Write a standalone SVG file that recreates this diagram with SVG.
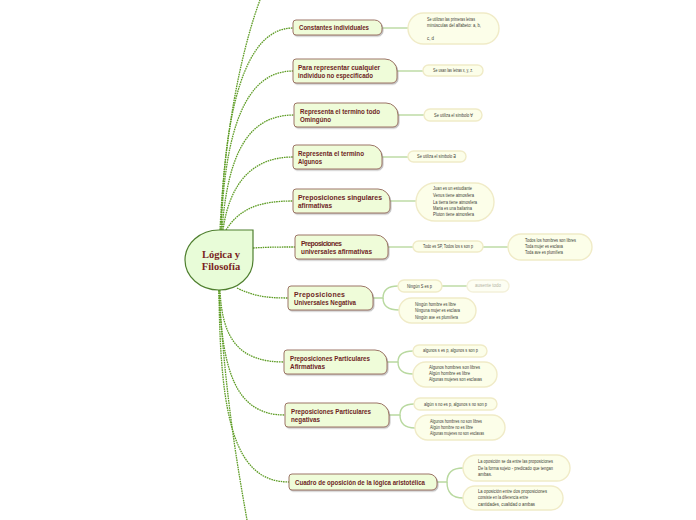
<svg xmlns="http://www.w3.org/2000/svg" width="696" height="520" viewBox="0 0 696 520">
<style>
.bg{fill:#ffffff}
.dash{fill:none;stroke:#5e9c25;stroke-width:1.3;stroke-dasharray:1.6 0.8}
.sol{fill:none;stroke:#b9d9a0;stroke-width:1.4}
.box{fill:#effcd9;stroke:#9c7466;stroke-width:1;filter:url(#sh)}
.leaf{fill:#fcfee9;stroke:#f0ebc7;stroke-width:1.4}
.leaff{fill:#fdfef3;stroke:#f4f1da;stroke-width:1.4}
.bt{font-family:"Liberation Sans",Arial,sans-serif;font-weight:bold;font-size:7px;fill:#6e1f1f}
.lt{font-family:"Liberation Sans",Arial,sans-serif;font-size:4.6px;fill:#3e3e36}
.ltf{font-family:"Liberation Sans",Arial,sans-serif;font-size:4.6px;fill:#b5b5a5}
.ct{font-family:"Liberation Serif","Times New Roman",serif;font-weight:bold;font-size:10.5px;fill:#7a1f1f}
</style>
<defs>
<filter id="sh" x="-10%" y="-20%" width="130%" height="160%">
<feDropShadow dx="1" dy="1.2" stdDeviation="0.6" flood-color="#777" flood-opacity="0.45"/>
</filter>
</defs>
<rect class="bg" x="0" y="0" width="696" height="520"/>

<g id="connectors">
<path class="dash" d="M220,230 C225,120 245,40 260,0"/>
<path class="dash" d="M221,230 C224,110 245,28 293,28"/>
<path class="dash" d="M221,230 C225,130 245,71 293,71"/>
<path class="dash" d="M222,230 C228,150 250,115 294,115"/>
<path class="dash" d="M223,230 C230,180 255,157 293,157"/>
<path class="dash" d="M226,230 C240,208 260,201 293,201"/>
<path class="dash" d="M253,248 C270,247 280,247 295,247"/>
<path class="dash" d="M237,288 C255,297 270,298 288,298"/>
<path class="dash" d="M220,290 C222,340 240,362 284,362"/>
<path class="dash" d="M219,290 C222,370 235,415 285,415"/>
<path class="dash" d="M219,290 C220,420 235,482 289,482"/>
<path class="dash" d="M219,290 C225,400 240,480 247,520"/>

<path class="sol" d="M382,28 H408"/>
<path class="sol" d="M397,71 H423"/>
<path class="sol" d="M398,115 H424"/>
<path class="sol" d="M382,157 H408"/>
<path class="sol" d="M390,201 H416"/>
<path class="sol" d="M388,247 H413"/>
<path class="sol" d="M483,247 H508"/>
<path class="sol" d="M373,298 H383 C383,290 388,286 398,286"/>
<path class="sol" d="M383,298 C383,306 388,310 399,310"/>
<path class="sol" d="M442,286 H467"/>
<path class="sol" d="M387,362 H398 C398,355 403,351 413,351"/>
<path class="sol" d="M398,362 C398,370 403,374 413,374"/>
<path class="sol" d="M389,415 H400 C400,408 405,404 414,404"/>
<path class="sol" d="M400,415 C400,423 405,428 415,428"/>
<path class="sol" d="M437,482 H447 C447,473 452,468 463,468"/>
<path class="sol" d="M447,482 C447,492 452,498 463,498"/>
</g>

<g id="center">
<path d="M219,230 H253 V260 A34,30 0 0 1 219,290 A34,30 0 0 1 185,260 A34,30 0 0 1 219,230 Z" fill="#e8fcd8" stroke="#4f7f2f" stroke-width="1.2"/>
<text class="ct" x="221" y="258" text-anchor="middle">Lógica y</text>
<text class="ct" x="221" y="270" text-anchor="middle">Filosofía</text>
</g>

<g id="n1">
<path class="box" d="M296,20 H374.5 A7.5,7.5 0 0 1 382,27.5 V30 A5,5 0 0 1 377,35 H296 A3,3 0 0 1 293,32 V23 A3,3 0 0 1 296,20 Z"/>
<text class="bt" x="299" y="30.3" textLength="70" lengthAdjust="spacingAndGlyphs">Constantes individuales</text>
</g>
<g id="n1a">
<rect class="leaf" x="408" y="13" width="91" height="31" rx="15.5"/>
<text class="lt" x="427" y="20.6" textLength="48" lengthAdjust="spacingAndGlyphs">Se utilizan las primeras letras</text>
<text class="lt" x="427" y="27.3" textLength="54" lengthAdjust="spacingAndGlyphs">minúsculas del alfabeto: a, b,</text>
<text class="lt" x="427" y="40" textLength="7" lengthAdjust="spacingAndGlyphs">c, d</text>
</g>

<g id="n2">
<path class="box" d="M296,59 H385 A12,12 0 0 1 397,71 V78 A5,5 0 0 1 392,83 H296 A3,3 0 0 1 293,80 V62 A3,3 0 0 1 296,59 Z"/>
<text class="bt" x="298" y="69.7" textLength="82" lengthAdjust="spacingAndGlyphs">Para representar cualquier</text>
<text class="bt" x="298" y="78" textLength="75" lengthAdjust="spacingAndGlyphs">individuo no especificado</text>
</g>
<g id="n2a">
<rect class="leaf" x="423" y="65" width="60" height="11" rx="5.5"/>
<text class="lt" x="433" y="72.3" textLength="40" lengthAdjust="spacingAndGlyphs">Se usan las letras x, y, z.</text>
</g>

<g id="n3">
<path class="box" d="M297,103 H386 A12,12 0 0 1 398,115 V122 A5,5 0 0 1 393,127 H297 A3,3 0 0 1 294,124 V106 A3,3 0 0 1 297,103 Z"/>
<text class="bt" x="300" y="113.7" textLength="80" lengthAdjust="spacingAndGlyphs">Representa el termino todo</text>
<text class="bt" x="300" y="122" textLength="31" lengthAdjust="spacingAndGlyphs">Omingúno</text>
</g>
<g id="n3a">
<rect class="leaf" x="424" y="109" width="58" height="12" rx="6"/>
<text class="lt" x="434" y="116.6" textLength="39" lengthAdjust="spacingAndGlyphs">Se utiliza el símbolo ∀</text>
</g>

<g id="n4">
<path class="box" d="M296,145 H370 A12,12 0 0 1 382,157 V164 A5,5 0 0 1 377,169 H296 A3,3 0 0 1 293,166 V148 A3,3 0 0 1 296,145 Z"/>
<text class="bt" x="298" y="155.7" textLength="66" lengthAdjust="spacingAndGlyphs">Representa el termino</text>
<text class="bt" x="298" y="164" textLength="24" lengthAdjust="spacingAndGlyphs">Algunos</text>
</g>
<g id="n4a">
<rect class="leaf" x="408" y="151" width="58" height="11" rx="5.5"/>
<text class="lt" x="417" y="158.3" textLength="39" lengthAdjust="spacingAndGlyphs">Se utiliza el símbolo ∃</text>
</g>

<g id="n5">
<path class="box" d="M296,189 H378 A12,12 0 0 1 390,201 V208 A5,5 0 0 1 385,213 H296 A3,3 0 0 1 293,210 V192 A3,3 0 0 1 296,189 Z"/>
<text class="bt" x="298" y="199.8" textLength="84" lengthAdjust="spacingAndGlyphs">Preposiciones singulares</text>
<text class="bt" x="298" y="208.2" textLength="34" lengthAdjust="spacingAndGlyphs">afirmativas</text>
</g>
<g id="n5a">
<rect class="leaf" x="416" y="183" width="78" height="38" rx="19"/>
<text class="lt" x="433" y="190.3" textLength="39" lengthAdjust="spacingAndGlyphs">Juan es un estudiante</text>
<text class="lt" x="433" y="196.6" textLength="41" lengthAdjust="spacingAndGlyphs">Venus tiene atmosfera</text>
<text class="lt" x="433" y="203.6" textLength="44" lengthAdjust="spacingAndGlyphs">La tierra tiene atmosfera</text>
<text class="lt" x="433" y="209.6" textLength="39" lengthAdjust="spacingAndGlyphs">Maria es una bailarina</text>
<text class="lt" x="433" y="215.9" textLength="41" lengthAdjust="spacingAndGlyphs">Pluton tiene atmosfera</text>
</g>

<g id="n6">
<path class="box" d="M298,235 H376 A12,12 0 0 1 388,247 V254 A5,5 0 0 1 383,259 H298 A3,3 0 0 1 295,256 V238 A3,3 0 0 1 298,235 Z"/>
<text class="bt" x="301" y="245.7" textLength="41" lengthAdjust="spacing">Preposiciones</text>
<text class="bt" x="301" y="254" textLength="71" lengthAdjust="spacingAndGlyphs">universales afirmativas</text>
</g>
<g id="n6a">
<rect class="leaf" x="413" y="241" width="70" height="11" rx="5.5"/>
<text class="lt" x="423" y="248.3" textLength="50" lengthAdjust="spacingAndGlyphs">Todo es SP, Todos los s son p</text>
</g>
<g id="n6b">
<rect class="leaf" x="508" y="234" width="84" height="26" rx="13"/>
<text class="lt" x="525" y="242.3" textLength="51" lengthAdjust="spacingAndGlyphs">Todos los hombres son libres</text>
<text class="lt" x="525" y="248.3" textLength="38" lengthAdjust="spacingAndGlyphs">Toda mujer es esclava</text>
<text class="lt" x="525" y="254.3" textLength="38" lengthAdjust="spacingAndGlyphs">Toda ave es plumífera</text>
</g>

<g id="n7">
<path class="box" d="M291,286 H361 A12,12 0 0 1 373,298 V305 A5,5 0 0 1 368,310 H291 A3,3 0 0 1 288,307 V289 A3,3 0 0 1 291,286 Z"/>
<text class="bt" x="294" y="296.7" textLength="51" lengthAdjust="spacing">Preposiciones</text>
<text class="bt" x="294" y="305" textLength="62" lengthAdjust="spacingAndGlyphs">Universales Negativa</text>
</g>
<g id="n7a">
<rect class="leaf" x="398" y="280" width="44" height="12" rx="6"/>
<text class="lt" x="407" y="287.6" textLength="25" lengthAdjust="spacingAndGlyphs">Ningún S es p</text>
</g>
<g id="n7c">
<rect class="leaff" x="467" y="280" width="42" height="12" rx="6"/>
<text class="ltf" x="488" y="287.4" text-anchor="middle" textLength="26" lengthAdjust="spacingAndGlyphs">ausente todo</text>
</g>
<g id="n7b">
<rect class="leaf" x="399" y="298" width="77" height="25" rx="12.5"/>
<text class="lt" x="415" y="305.6" textLength="41" lengthAdjust="spacingAndGlyphs">Ningún hombre es libre</text>
<text class="lt" x="415" y="312.3" textLength="45" lengthAdjust="spacingAndGlyphs">Ninguna mujer es esclava</text>
<text class="lt" x="415" y="318.9" textLength="43" lengthAdjust="spacingAndGlyphs">Ningún ave es plumífera</text>
</g>

<g id="n8">
<path class="box" d="M287,350 H375 A12,12 0 0 1 387,362 V369 A5,5 0 0 1 382,374 H287 A3,3 0 0 1 284,371 V353 A3,3 0 0 1 287,350 Z"/>
<text class="bt" x="290" y="360.7" textLength="80" lengthAdjust="spacingAndGlyphs">Preposiciones Particulares</text>
<text class="bt" x="290" y="369" textLength="35" lengthAdjust="spacingAndGlyphs">Afirmativas</text>
</g>
<g id="n8a">
<rect class="leaf" x="413" y="345" width="74" height="12" rx="6"/>
<text class="lt" x="423" y="352.3" textLength="55" lengthAdjust="spacingAndGlyphs">algunos s es p, algunos s son p</text>
</g>
<g id="n8b">
<rect class="leaf" x="413" y="362" width="84" height="25" rx="12.5"/>
<text class="lt" x="429" y="368.9" textLength="51" lengthAdjust="spacingAndGlyphs">Algunos hombres son libres</text>
<text class="lt" x="429" y="374.6" textLength="41" lengthAdjust="spacingAndGlyphs">Algún hombre es libre</text>
<text class="lt" x="429" y="380.6" textLength="53" lengthAdjust="spacingAndGlyphs">Algunas mujeres son esclavas</text>
</g>

<g id="n9">
<path class="box" d="M288,403 H377 A12,12 0 0 1 389,415 V422 A5,5 0 0 1 384,427 H288 A3,3 0 0 1 285,424 V406 A3,3 0 0 1 288,403 Z"/>
<text class="bt" x="291" y="413.7" textLength="80" lengthAdjust="spacingAndGlyphs">Preposiciones Particulares</text>
<text class="bt" x="291" y="422" textLength="29" lengthAdjust="spacingAndGlyphs">negativas</text>
</g>
<g id="n9a">
<rect class="leaf" x="414" y="398" width="83" height="12" rx="6"/>
<text class="lt" x="424" y="405.9" textLength="63" lengthAdjust="spacingAndGlyphs">algún s no es p, algunos s no son p</text>
</g>
<g id="n9b">
<rect class="leaf" x="415" y="415" width="90" height="25" rx="12.5"/>
<text class="lt" x="430" y="422.6" textLength="52" lengthAdjust="spacingAndGlyphs">Algunos hombres no son libres</text>
<text class="lt" x="430" y="428.6" textLength="43" lengthAdjust="spacingAndGlyphs">Algún hombre no es libre</text>
<text class="lt" x="430" y="434.6" textLength="54" lengthAdjust="spacingAndGlyphs">Algunas mujeres no son esclavas</text>
</g>

<g id="n10">
<path class="box" d="M292,474 H429 A8,8 0 0 1 437,482 V485 A5,5 0 0 1 432,490 H292 A3,3 0 0 1 289,487 V477 A3,3 0 0 1 292,474 Z"/>
<text class="bt" x="295" y="484.5" textLength="130" lengthAdjust="spacingAndGlyphs">Cuadro de oposición de la lógica aristotélica</text>
</g>
<g id="n10a">
<rect class="leaf" x="463" y="455" width="107" height="26" rx="13"/>
<text class="lt" x="478" y="462.6" textLength="75" lengthAdjust="spacingAndGlyphs">La oposición se da entre las proposiciones</text>
<text class="lt" x="478" y="469.6" textLength="75" lengthAdjust="spacingAndGlyphs">De la forma sujeto - predicado que tengan</text>
<text class="lt" x="478" y="476.3" textLength="14" lengthAdjust="spacingAndGlyphs">ambas.</text>
</g>
<g id="n10b">
<rect class="leaf" x="463" y="486" width="100" height="24" rx="12"/>
<text class="lt" x="478" y="492.6" textLength="69" lengthAdjust="spacingAndGlyphs">La oposición entre dos proposiciones</text>
<text class="lt" x="478" y="498.6" textLength="50" lengthAdjust="spacingAndGlyphs">consiste en la diferencia entre</text>
<text class="lt" x="478" y="505.9" textLength="57" lengthAdjust="spacingAndGlyphs">cantidades, cualidad o ambas</text>
</g>
</svg>
